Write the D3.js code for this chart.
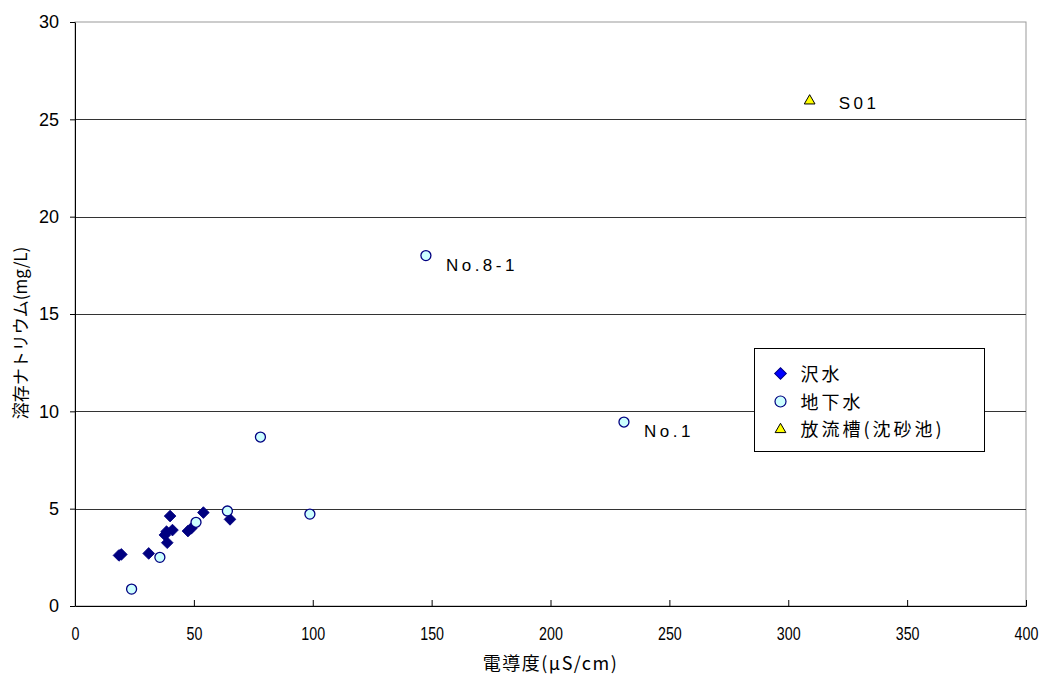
<!DOCTYPE html>
<head>
    <meta charset="utf-8">
    <title>電導度と溶存ナトリウム</title>
    <script src="https://d3js.org/d3.v7.min.js"></script>
</head>
<body style="margin:0;background:#fff">
    <svg class="chart" width="1050" height="675"></svg>
</body>
<script>
// 沢水 (stream water)
var streamEC = [18.5, 19.5, 31, 40, 38.5, 41, 37.8, 38.8, 47.5, 49, 54, 65.2];
var streamNa = [2.6, 2.65, 2.7, 4.62, 3.82, 3.9, 3.65, 3.25, 3.85, 4.0, 4.8, 4.45];
// 地下水 (groundwater)
var groundEC = [23.8, 35.7, 50.9, 64.1, 98.8, 78, 147.6, 230.9];
var groundNa = [0.87, 2.5, 4.3, 4.88, 4.72, 8.68, 18.0, 9.45];
var groundLabel = ["", "", "", "", "", "", "No.8-1", "No.1"];
// 放流槽(沈砂池)
var outEC = [309];
var outNa = [26];
var outLabel = ["S01"];

var xTicks = [0, 50, 100, 150, 200, 250, 300, 350, 400];
var yTicks = [0, 5, 10, 15, 20, 25, 30];
var legendNames = ["沢水", "地下水", "放流槽(沈砂池)"];

var margin = {top: 22, left: 75, right: 24, bottom: 69};
var W = 1050, H = 675;

var x = d3.scaleLinear().domain([0, 400]).range([margin.left, W - margin.right]);
var y = d3.scaleLinear().domain([0, 30]).range([H - margin.bottom, margin.top]);

var svg = d3.select(".chart");

// plot border (grey)
svg.append("rect")
    .attr("x", x(0)).attr("y", y(30))
    .attr("width", x(400) - x(0)).attr("height", y(0) - y(30))
    .attr("fill", "none").attr("stroke", "#999");

// gridlines
svg.append("g").selectAll("line")
    .data(yTicks.filter(function(d) { return d > 0 && d < 30; }))
    .enter().append("line")
    .attr("x1", x(0)).attr("x2", x(400))
    .attr("y1", function(d) { return Math.round(y(d)) + 0.5; })
    .attr("y2", function(d) { return Math.round(y(d)) + 0.5; })
    .attr("stroke", "#333");

// y axis
var yAxis = svg.append("g")
    .attr("transform", "translate(" + x(0) + ",0)")
    .call(d3.axisLeft(y).tickValues(yTicks).tickSize(5).tickSizeOuter(0));
yAxis.select(".domain").attr("stroke", "#000");
yAxis.selectAll("text")
    .style("font", "18px 'Liberation Sans', Arial, sans-serif")
    .attr("fill", "#000").attr("dx", "-8px");

// x axis, ticks pointing inward, narrow labels
var xAxis = svg.append("g")
    .attr("transform", "translate(0," + y(0) + ")")
    .call(d3.axisBottom(x).tickValues(xTicks).tickSize(-6).tickSizeOuter(0));
xAxis.select(".domain").attr("stroke", "#000");
xAxis.selectAll("text")
    .style("font", "19px 'Liberation Sans', Arial, sans-serif")
    .attr("fill", "#000").attr("y", 21)
    .attr("transform", "scale(0.75,1)");

// axis titles
svg.append("text")
    .attr("x", x(200)).attr("y", 670)
    .attr("text-anchor", "middle")
    .style("font", "18px 'Noto Sans CJK JP', sans-serif")
    .style("letter-spacing", "1.5px")
    .text("電導度(μS/cm)");

svg.append("text")
    .attr("transform", "translate(27,333) rotate(-90)")
    .attr("text-anchor", "middle")
    .style("font", "17px 'Noto Sans CJK JP', sans-serif")
    .text("溶存ナトリウム(mg/L)");

var diamond = d3.symbol().type(d3.symbolSquare).size(68);
var triangle = d3.symbol().type(d3.symbolTriangle).size(50);

// stream water diamonds
svg.append("g").selectAll("path")
    .data(streamEC)
    .enter().append("path")
    .attr("d", diamond)
    .attr("transform", function(d, i) { return "translate(" + x(d) + "," + y(streamNa[i]) + ") rotate(45)"; })
    .attr("fill", "#000080").attr("stroke", "#000080").attr("stroke-width", 0.8);

// groundwater circles
svg.append("g").selectAll("circle")
    .data(groundEC)
    .enter().append("circle")
    .attr("cx", function(d) { return x(d); })
    .attr("cy", function(d, i) { return y(groundNa[i]); })
    .attr("r", 5)
    .attr("fill", "#ccffff").attr("stroke", "#000080").attr("stroke-width", 1.3);

// outlet triangle
svg.append("g").selectAll("path")
    .data(outEC)
    .enter().append("path")
    .attr("d", triangle)
    .attr("transform", function(d, i) { return "translate(" + x(d) + "," + (y(outNa[i]) + 1) + ")"; })
    .attr("fill", "#ffff00").attr("stroke", "#000").attr("stroke-width", 1);

// point labels
var pts = groundEC.map(function(d, i) { return {x: d, y: groundNa[i], t: groundLabel[i], dx: 20, dy: 15}; })
    .filter(function(d) { return d.t; })
    .concat(outEC.map(function(d, i) { return {x: d, y: outNa[i], t: outLabel[i], dx: 29, dy: 9}; }));
svg.append("g").selectAll("text")
    .data(pts)
    .enter().append("text")
    .attr("x", function(d) { return x(d.x) + d.dx; })
    .attr("y", function(d) { return y(d.y) + d.dy; })
    .style("font", "17px 'Liberation Sans', Arial, sans-serif")
    .style("letter-spacing", "3.5px")
    .attr("fill", "#000")
    .text(function(d) { return d.t; });

// legend
var lg = svg.append("g").attr("transform", "translate(754.5,348.5)");
lg.append("rect").attr("width", 230).attr("height", 103)
    .attr("fill", "#fff").attr("stroke", "#000");
var rowY = [25, 53, 80];
lg.append("path").attr("d", diamond).attr("transform", "translate(26," + rowY[0] + ") rotate(45)")
    .attr("fill", "#0000ff").attr("stroke", "#000080");
lg.append("circle").attr("cx", 26).attr("cy", rowY[1]).attr("r", 5.5)
    .attr("fill", "#ccffff").attr("stroke", "#000080").attr("stroke-width", 1.2);
lg.append("path").attr("d", triangle).attr("transform", "translate(26," + (rowY[2] + 1) + ")")
    .attr("fill", "#ffff00").attr("stroke", "#000");
lg.selectAll("text.lab").data(legendNames).enter().append("text")
    .attr("x", 46).attr("y", function(d, i) { return rowY[i] + 7; })
    .style("font", "18px 'Noto Sans CJK JP', sans-serif")
    .style("letter-spacing", "3px")
    .attr("fill", "#000")
    .text(function(d) { return d; });
</script>
